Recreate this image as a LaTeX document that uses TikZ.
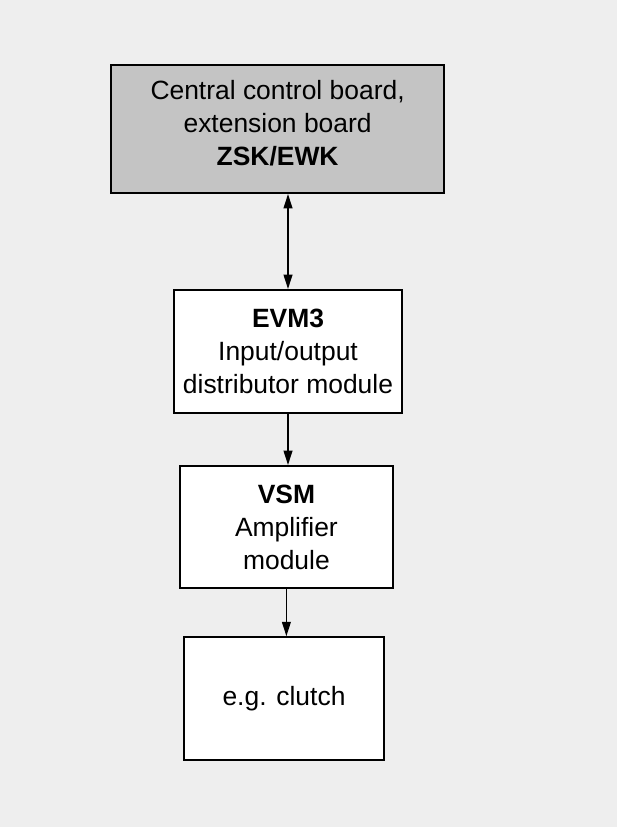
\documentclass[tikz,border=0pt]{standalone}
\usepackage{fontspec}
\setmainfont{Liberation Sans}
\usetikzlibrary{arrows.meta,positioning}
\definecolor{papel}{HTML}{EEEEEE}
\definecolor{tablero}{HTML}{C4C4C4}

\begin{document}
\begin{tikzpicture}[
    >={Triangle[length=0.36cm,width=0.22cm]},
    bloque/.style={draw,line width=1.4pt,align=center,inner sep=0pt,
      font=\fontsize{18.8}{23.5}\selectfont},
    flecha/.style={line width=1.1pt}]
  % fondo
  \fill[papel](0,0)rectangle(15.425,20.675);
  \useasboundingbox(0,0)rectangle(15.425,20.675);
  % bloques
  \node[bloque,fill=tablero,minimum width=8.33cm,minimum height=3.2cm]
    (zsk) at (6.94,17.45) {Central control board,\\extension board\\\textbf{ZSK/EWK}\rule[-0.3cm]{0pt}{0.3cm}};
  \node[bloque,fill=white,minimum width=5.7cm,minimum height=3.07cm]
    (evm) at (7.2,11.89) {\textbf{EVM3}\\Input/output\\distributor module};
  \node[bloque,fill=white,minimum width=5.33cm,minimum height=3.05cm]
    (vsm) at (7.16,7.5) {\textbf{VSM}\\Amplifier\\module};
  \node[bloque,fill=white,minimum width=5cm,minimum height=3.07cm]
    (kupplung) at (7.1,3.21) {e.g. clutch};
  % conexiones
  \draw[flecha,<->](evm.north |- zsk.south)--(evm.north);
  \draw[flecha,->](evm.south)--(evm.south |- vsm.north);
  \draw[flecha,->](vsm.south)--(vsm.south |- kupplung.north);
\end{tikzpicture}
\end{document}
